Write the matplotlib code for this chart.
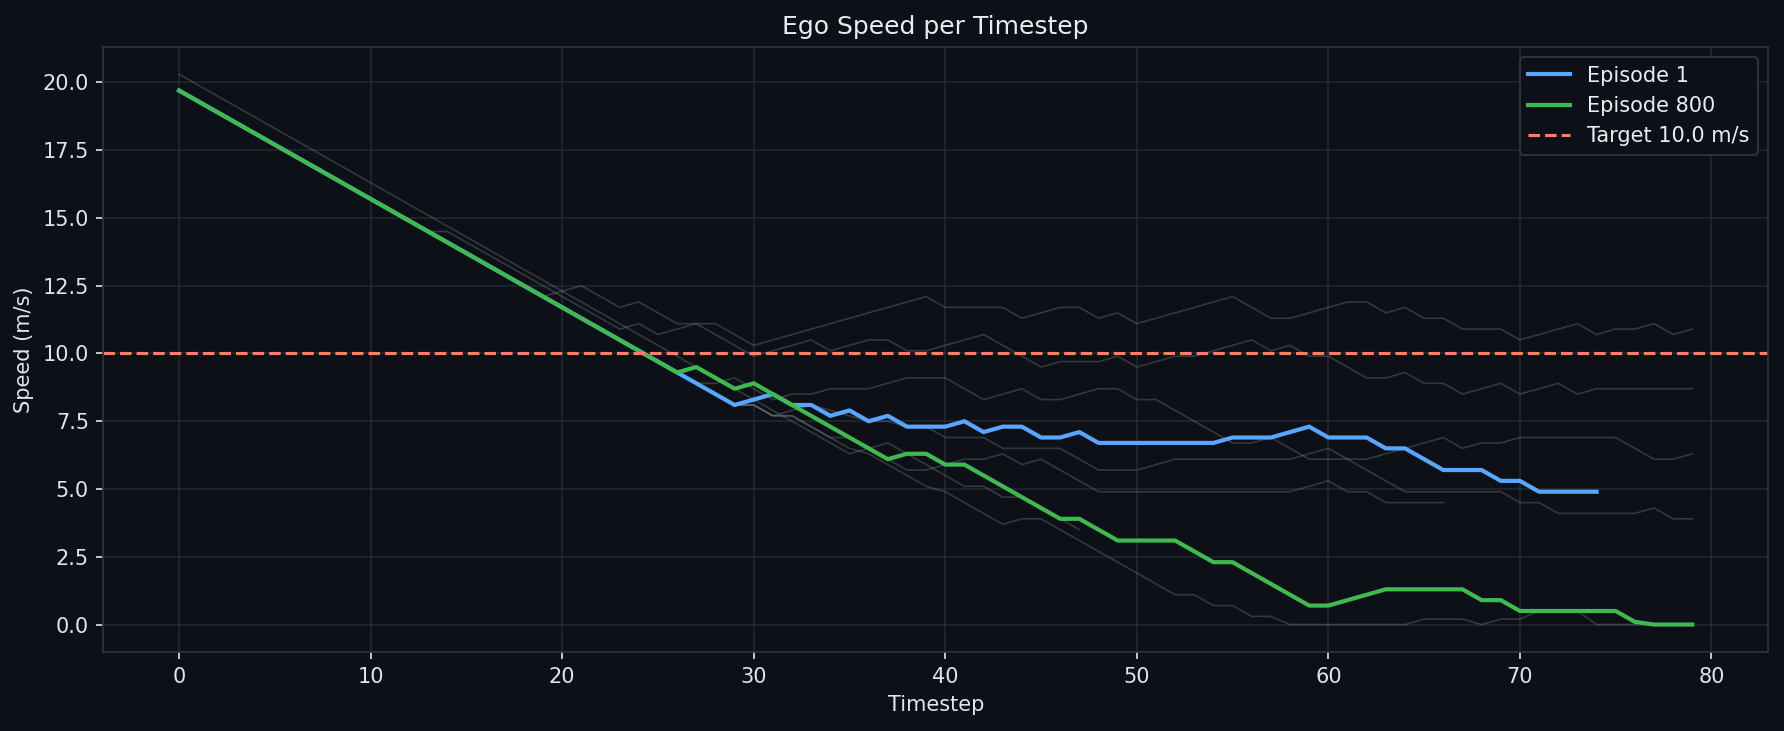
import matplotlib
matplotlib.use('Agg')
import matplotlib.pyplot as plt
import numpy as np

# ---- data ----
episode_1 = [19.7, 19.3, 18.9, 18.5, 18.1, 17.7, 17.3, 16.9, 16.5, 16.1,
             15.7, 15.3, 14.9, 14.5, 14.1, 13.7, 13.3, 12.9, 12.5, 12.1,
             11.7, 11.3, 10.9, 10.5, 10.1, 9.7, 9.3, 8.9, 8.5, 8.1,
             8.3, 8.5, 8.1, 8.1, 7.7, 7.9, 7.5, 7.7, 7.3, 7.3,
             7.3, 7.5, 7.1, 7.3, 7.3, 6.9, 6.9, 7.1, 6.7, 6.7,
             6.7, 6.7, 6.7, 6.7, 6.7, 6.9, 6.9, 6.9, 7.1, 7.3,
             6.9, 6.9, 6.9, 6.5, 6.5, 6.1, 5.7, 5.7, 5.7, 5.3,
             5.3, 4.9, 4.9, 4.9, 4.9]

episode_800 = [19.7, 19.3, 18.9, 18.5, 18.1, 17.7, 17.3, 16.9, 16.5, 16.1,
               15.7, 15.3, 14.9, 14.5, 14.1, 13.7, 13.3, 12.9, 12.5, 12.1,
               11.7, 11.3, 10.9, 10.5, 10.1, 9.7, 9.3, 9.5, 9.1, 8.7,
               8.9, 8.5, 8.1, 7.7, 7.3, 6.9, 6.5, 6.1, 6.3, 6.3,
               5.9, 5.9, 5.5, 5.1, 4.7, 4.3, 3.9, 3.9, 3.5, 3.1,
               3.1, 3.1, 3.1, 2.7, 2.3, 2.3, 1.9, 1.5, 1.1, 0.7,
               0.7, 0.9, 1.1, 1.3, 1.3, 1.3, 1.3, 1.3, 0.9, 0.9,
               0.5, 0.5, 0.5, 0.5, 0.5, 0.5, 0.1, 0.0, 0.0, 0.0]

other_a = [19.7, 19.3, 18.9, 18.5, 18.1, 17.7, 17.3, 16.9, 16.5, 16.1,
           15.7, 15.3, 14.9, 14.5, 14.1, 13.7, 13.3, 12.9, 12.5, 12.1,
           12.3, 12.5, 12.1, 11.7, 11.9, 11.5, 11.1, 11.1, 11.1, 10.7,
           10.3, 10.5, 10.7, 10.9, 11.1, 11.3, 11.5, 11.7, 11.9, 12.1,
           11.7, 11.7, 11.7, 11.7, 11.3, 11.5, 11.7, 11.7, 11.3, 11.5,
           11.1, 11.3, 11.5, 11.7, 11.9, 12.1, 11.7, 11.3, 11.3, 11.5,
           11.7, 11.9, 11.9, 11.5, 11.7, 11.3, 11.3, 10.9, 10.9, 10.9,
           10.5, 10.7, 10.9, 11.1, 10.7, 10.9, 10.9, 11.1, 10.7, 10.9]

other_b = [19.7, 19.3, 18.9, 18.5, 18.1, 17.7, 17.3, 16.9, 16.5, 16.1,
           15.7, 15.3, 14.9, 14.5, 14.5, 14.1, 13.7, 13.3, 12.9, 12.5,
           12.1, 11.7, 11.3, 10.9, 11.1, 10.7, 10.9, 11.1, 10.7, 10.3,
           9.9, 10.1, 10.3, 10.5, 10.1, 10.3, 10.5, 10.5, 10.1, 10.1,
           10.3, 10.5, 10.7, 10.3, 9.9, 9.5, 9.7, 9.7, 9.7, 9.9,
           9.5, 9.7, 9.9, 9.9, 10.1, 10.3, 10.5, 10.1, 10.3, 9.9,
           9.9, 9.5, 9.1, 9.1, 9.3, 8.9, 8.9, 8.5, 8.7, 8.9,
           8.5, 8.7, 8.9, 8.5, 8.7, 8.7, 8.7, 8.7, 8.7, 8.7]

other_c = [19.7, 19.3, 18.9, 18.5, 18.1, 17.7, 17.3, 16.9, 16.5, 16.1,
           15.7, 15.3, 14.9, 14.5, 14.1, 13.7, 13.3, 12.9, 12.5, 12.1,
           11.7, 11.3, 10.9, 10.5, 10.1, 9.7, 9.3, 8.9, 8.9, 9.1,
           8.7, 8.3, 8.5, 8.5, 8.7, 8.7, 8.7, 8.9, 9.1, 9.1,
           9.1, 8.7, 8.3, 8.5, 8.7, 8.3, 8.3, 8.5, 8.7, 8.7,
           8.3, 8.3, 7.9, 7.5, 7.1, 6.7, 6.7, 6.9, 6.5, 6.1,
           6.1, 6.1, 6.1, 6.3, 6.5, 6.7, 6.9, 6.5, 6.7, 6.7,
           6.9, 6.9, 6.9, 6.9, 6.9, 6.9, 6.5, 6.1, 6.1, 6.3]

other_d = [19.7, 19.3, 18.9, 18.5, 18.1, 17.7, 17.3, 16.9, 16.5, 16.1,
           15.7, 15.3, 14.9, 14.5, 14.1, 13.7, 13.3, 12.9, 12.5, 12.1,
           11.7, 11.3, 10.9, 10.5, 10.1, 9.7, 9.3, 8.9, 8.5, 8.1,
           8.1, 7.7, 7.9, 8.1, 7.9, 7.7, 7.5, 7.5, 7.3, 7.3,
           6.9, 6.9, 6.9, 6.5, 6.5, 6.5, 6.5, 6.1, 5.7, 5.7,
           5.7, 5.9, 6.1, 6.1, 6.1, 6.1, 6.1, 6.1, 6.1, 6.3,
           6.5, 6.1, 5.7, 5.3, 4.9, 4.9, 4.9, 4.9, 4.9, 4.9,
           4.5, 4.5, 4.1, 4.1, 4.1, 4.1, 4.1, 4.3, 3.9, 3.9]

other_e = [19.7, 19.3, 18.9, 18.5, 18.1, 17.7, 17.3, 16.9, 16.5, 16.1,
           15.7, 15.3, 14.9, 14.5, 14.1, 13.7, 13.3, 12.9, 12.5, 12.1,
           11.7, 11.3, 10.9, 10.5, 10.1, 9.7, 9.3, 8.9, 8.5, 8.1,
           8.1, 7.7, 7.7, 7.3, 6.9, 6.9, 6.5, 6.1, 5.7, 5.7,
           5.9, 6.1, 6.1, 6.3, 5.9, 6.1, 5.7, 5.3, 4.9, 4.9,
           4.9, 4.9, 4.9, 4.9, 4.9, 4.9, 4.9, 4.9, 4.9, 5.1,
           5.3, 4.9, 4.9, 4.5, 4.5, 4.5, 4.5]

other_f = [19.7, 19.3, 18.9, 18.5, 18.1, 17.7, 17.3, 16.9, 16.5, 16.1,
           15.7, 15.3, 14.9, 14.5, 14.1, 13.7, 13.3, 12.9, 12.5, 12.1,
           11.7, 11.3, 10.9, 10.5, 10.1, 9.7, 9.3, 8.9, 8.5, 8.1,
           8.1, 7.7, 7.7, 7.3, 6.9, 6.5, 6.3, 5.9, 5.5, 5.1,
           4.9, 4.5, 4.1, 3.7, 3.9, 3.9, 3.5, 3.1, 2.7, 2.3,
           1.9, 1.5, 1.1, 1.1, 0.7, 0.7, 0.3, 0.3, 0.0, 0.0,
           0.0, 0.0, 0.0, 0.0, 0.0, 0.2, 0.2, 0.2, 0.0, 0.2,
           0.2, 0.5, 0.5, 0.5, 0.0, 0.0, 0.0, 0.0, 0.0, 0.0]

other_g = [20.3, 19.9, 19.5, 19.1, 18.7, 18.3, 17.9, 17.5, 17.1, 16.7,
           16.3, 15.9, 15.5, 15.1, 14.7, 14.3, 13.9, 13.5, 13.1, 12.7,
           12.3, 11.9, 11.5, 11.1, 10.7, 10.3, 9.9, 9.5, 9.1, 8.7,
           8.3, 7.9, 7.5, 7.1, 6.7, 6.3, 6.5, 6.7, 6.3, 5.9,
           5.5, 5.1, 5.1, 4.7, 4.7, 4.3, 3.9, 3.5]

target_speed = 10.0
labels = ['Episode 1', 'Episode 800', f'Target {target_speed:.1f} m/s']

# ---- style ----
BG = '#0d1117'
GRID = '#30363d'
TXT = '#e6edf3'
TICK = '#dfe5ea'

fig = plt.figure(figsize=(1784 / 150, 731 / 150), dpi=150, facecolor=BG)
ax = fig.add_axes([0.058, 0.108, 0.933, 0.828])
ax.set_facecolor(BG)

for series in [other_a, other_b, other_c, other_d, other_e, other_f, other_g]:
    ax.plot(np.arange(len(series)), series, color='#8b949e', alpha=0.3, lw=0.8)

ax.plot(np.arange(len(episode_1)), episode_1, color='#58a6ff', lw=2, label=labels[0])
ax.plot(np.arange(len(episode_800)), episode_800, color='#3fb950', lw=2, label=labels[1])
ax.axhline(target_speed, color='#f78166', ls='--', lw=1.5, label=labels[2])

ax.set_title('Ego Speed per Timestep', color=TXT, fontsize=12)
ax.set_xlabel('Timestep', color=TICK, fontsize=10)
ax.set_ylabel('Speed (m/s)', color=TICK, fontsize=10)
ax.tick_params(colors=TICK, labelsize=10)
for s in ax.spines.values():
    s.set_color(GRID)
ax.grid(True, color=GRID, lw=0.8, alpha=0.6)
ax.set_axisbelow(True)

leg = ax.legend(loc='upper right', facecolor=BG, edgecolor=GRID, labelcolor=TXT,
                fontsize=10, framealpha=0.9)

fig.savefig('out.png', dpi=150, facecolor=BG)
